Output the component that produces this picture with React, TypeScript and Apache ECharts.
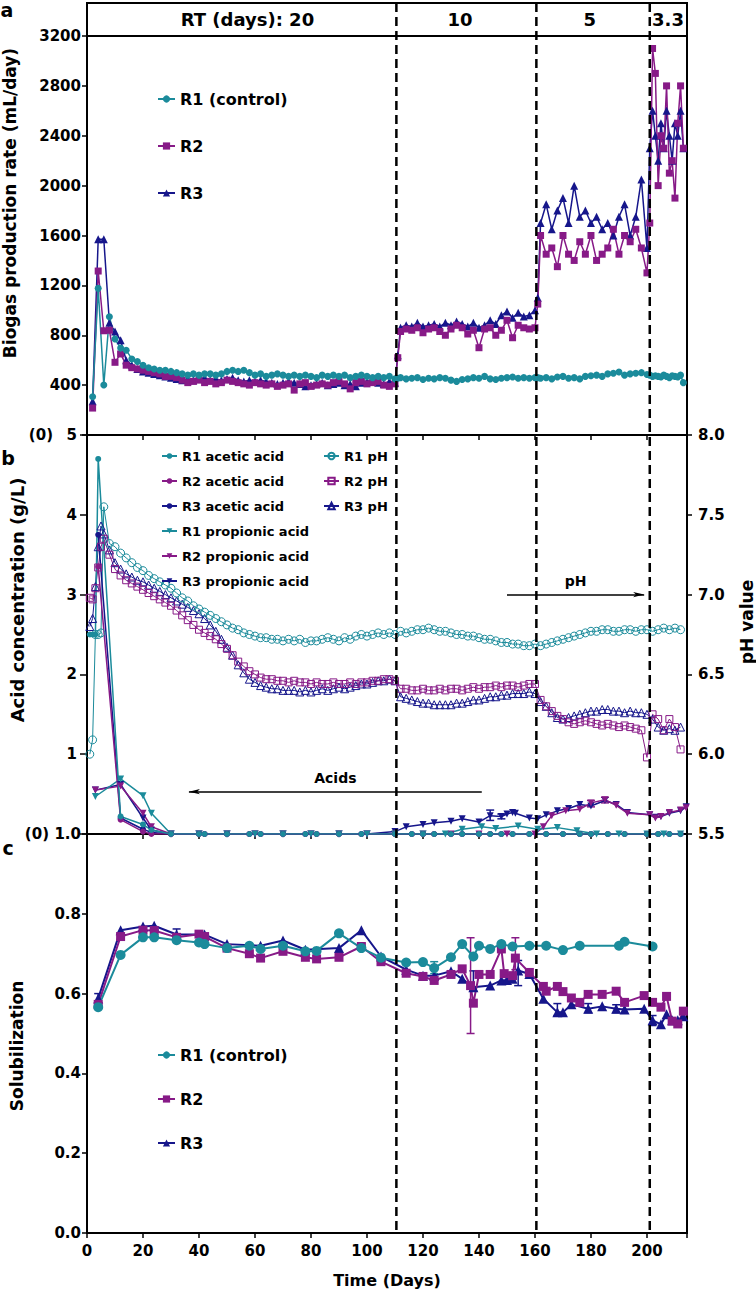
import React, { useEffect, useRef } from "react";
import * as echarts from "echarts";

const FONT = "'DejaVu Sans', 'Liberation Sans', sans-serif";
const TEAL = "#1b8b9b";
const PURPLE = "#871a87";
const NAVY = "#16168b";

// ---------- Panel a: biogas production rate (mL/day) ----------
const biogasDays = [2,4,6,8,10,12,14,16,18,20,22,24,26,28,30,32,34,36,38,40,42,44,46,48,50,52,54,56,58,60,62,64,66,68,70,72,74,76,78,80,82,84,86,88,90,92,94,96,98,100,102,104,106,108,110,111,112,114,116,118,120,122,124,126,128,130,132,134,136,138,140,142,144,146,148,150,152,154,156,158,160,161,162,164,166,168,170,172,174,176,178,180,182,184,186,188,190,192,194,196,198,200,201,202,203,204,205,206,207,208,209,210,211,212,213];
const biogasR1 = [307,1176,401,949,770,697,680,610,590,560,540,530,520,520,510,500,490,480,490,480,490,490,480,490,510,520,510,520,500,480,490,470,480,490,480,470,480,470,480,470,460,480,470,480,470,480,460,470,480,470,460,470,460,470,450,
  455,
  460,450,455,460,445,455,450,460,455,440,430,445,450,460,455,470,450,445,455,460,465,455,460,455,460,
  460,
  455,460,450,465,470,455,460,450,470,475,480,470,490,495,505,480,490,495,500,485,
  480,470,475,470,465,480,470,460,475,470,465,480,420];
const biogasR2 = [216,1315,836,840,583,650,560,540,530,520,510,500,490,470,470,460,440,420,430,440,420,430,410,420,440,430,420,410,400,420,410,400,410,390,400,410,360,410,420,390,400,410,400,420,430,410,370,420,430,410,420,430,400,390,410,
  620,
  830,850,840,860,820,850,860,830,800,850,880,860,810,840,700,850,860,800,840,920,780,880,860,850,860,
  1050,
  1600,1450,1500,1350,1600,1450,1400,1550,1450,1600,1400,1450,1500,1650,1450,1600,1550,1650,1500,1300,
  1700,3100,2900,2000,2400,2300,2800,2100,2200,1900,2500,2800,2300];
const biogasR3 = [270,1570,1570,900,830,760,600,560,530,510,500,490,480,470,460,450,440,450,440,450,460,440,450,440,450,460,440,430,440,430,440,430,420,410,420,430,420,410,390,400,410,420,400,410,420,400,410,390,420,430,440,420,410,430,420,
  640,
  860,880,870,900,870,880,890,870,900,880,910,890,870,900,860,880,920,890,960,990,940,980,950,960,1000,
  1100,
  1700,1850,1650,1800,1900,1700,2000,1750,1800,1700,1750,1650,1700,1600,1750,1850,1600,1750,2050,1500,
  2300,2600,2400,2200,2500,2300,2600,2400,2200,2500,2400,2600,2300];

// ---------- Panel b: acids (g/L) and pH ----------
const aceticDays = [1,2,3,4,12,20,23,30,40,42,50,58,62,70,78,82,90,98,110,116,120,124,130,134,140,144,148,152,158,164,170,176,180,186,192,200,204,208,212];
const aceticR1 = [2.5,2.5,2.5,4.7,0.22,0.12,0.05,0,0,0,0,0,0,0,0,0,0,0,0,0,0,0,0,0,0,0,0,0,0,0,0,0,0,0,0,0,0,0,0];
const aceticR2 = [null,null,null,3.35,0.18,0.03,0,0,0,0,0,0,0,0,0,0,0,0,0,0,0,0,0,0,0,0,0,0,0,0,0,0,0,0,0,0,0,0,0];
const aceticR3 = [null,null,null,3.75,0.2,0.06,0.02,0,0,0,0,0,0,0,0,0,0,0,0,0,0,0,0,0,0,0,0,0,0,0,0,0,0,0,0,0,0,0,0];

const propR1Days = [3,12,20,23,30,40,50,60,70,80,90,100,110,120,128,134,141,146,154,161,168,175,182,190,200,206,212];
const propR1 = [0.47,0.69,0.48,0.26,0,0,0,0,0,0,0,0,0,0,0,0.06,0.09,0.07,0.1,0.06,0.08,0.04,0,0,0,0,0];
const propR2Days = [3,12,20,23,30,40,50,60,70,80,90,100,110,120,130,140,150,160,163,166,171,176,180,185,189,193,201,203,205,208,212,214];
const propR2 = [0.55,0.6,0.26,0.09,0,0,0,0,0,0,0,0,0,0,0,0,0,0,0.09,0.23,0.29,0.31,0.39,0.43,0.36,0.26,0.24,0.2,0.22,0.27,0.3,0.33];
const propR3Days = [3,12,20,23,30,40,50,60,70,80,90,100,110,114,120,124,130,134,140,144,148,150,152,153,158,161,164,168,172,176,180,185,189,193,201,203,205,208,212,214];
const propR3 = [0.55,0.62,0.2,0.05,0,0,0,0,0,0,0,0,0.03,0.09,0.12,0.14,0.16,0.19,0.15,0.23,0.22,0.25,0.27,0.26,0.2,0.19,0.24,0.29,0.32,0.37,0.35,0.42,0.37,0.27,0.24,0.21,0.22,0.26,0.29,0.34];
// error bars on propionic acid: day, low, high
const propR2ErrDays = [180, 185];
const propR2ErrLow = [0.34, 0.39];
const propR2ErrHigh = [0.42, 0.46];
const propR3ErrDays = [144, 148];
const propR3ErrLow = [0.17, 0.19];
const propR3ErrHigh = [0.3, 0.25];

const pHDays = [1,2,3,4,5,6,8,10,12,14,16,18,20,22,24,26,28,30,32,34,36,38,40,42,44,46,48,50,52,54,56,58,60,62,64,66,68,70,72,74,76,78,80,82,84,86,88,90,92,94,96,98,100,102,104,106,108,110,112,114,116,118,120,122,124,126,128,130,132,134,136,138,140,142,144,146,148,150,152,154,156,158,160,162,164,166,168,170,172,174,176,178,180,182,184,186,188,190,192,194,196,198,200,202,204,206,208,210,212];
const pHR1 = [6.0,6.09,6.75,6.75,6.76,7.55,
  7.32,7.30,7.26,7.23,7.20,7.17,7.15,7.12,7.10,7.08,
  7.06,7.04,7.01,6.98,6.96,6.93,6.91,6.89,6.87,6.85,
  6.83,6.81,6.79,6.78,6.76,6.75,6.74,6.73,6.73,6.72,
  6.72,6.71,6.72,6.71,6.72,6.70,6.71,6.71,6.72,6.73,
  6.72,6.71,6.73,6.72,6.74,6.75,6.74,6.75,6.76,6.75,
  6.76,6.75,6.77,6.76,6.77,6.78,6.78,6.79,6.78,6.77,
  6.77,6.76,6.75,6.75,6.74,6.74,6.73,6.72,6.72,6.71,
  6.70,6.70,6.69,6.69,6.68,6.68,6.69,6.68,6.69,6.70,
  6.71,6.72,6.73,6.74,6.75,6.76,6.77,6.77,6.78,6.78,
  6.77,6.77,6.78,6.78,6.77,6.78,6.78,6.77,6.78,6.79,
  6.78,6.79,6.78];
const pHR2 = [6.98,6.97,7.04,7.17,7.30,7.35,
  7.25,7.16,7.12,7.09,7.07,7.05,7.03,7.01,6.99,6.97,
  6.95,6.93,6.90,6.87,6.84,6.81,6.78,6.76,6.74,6.72,
  6.69,6.66,6.62,6.58,6.55,6.52,6.50,6.48,6.47,6.47,
  6.46,6.46,6.45,6.46,6.45,6.45,6.44,6.45,6.44,6.44,
  6.45,6.44,6.44,6.45,6.44,6.45,6.45,6.46,6.46,6.47,
  6.47,6.46,6.41,6.41,6.40,6.40,6.41,6.40,6.40,6.41,
  6.40,6.41,6.41,6.40,6.41,6.42,6.41,6.42,6.42,6.43,
  6.42,6.43,6.43,6.42,6.43,6.44,6.44,6.34,6.30,6.27,
  6.24,6.22,6.20,6.19,6.20,6.21,6.20,6.19,6.18,6.19,
  6.18,6.17,6.18,6.17,6.16,6.15,5.98,6.25,6.22,6.15,
  6.22,6.17,6.03];
const pHR3 = [6.80,6.85,7.05,7.30,7.43,7.38,
  7.28,7.20,7.16,7.13,7.11,7.09,7.08,7.06,7.04,7.02,
  7.00,6.98,6.96,6.94,6.92,6.90,6.88,6.85,6.81,6.77,
  6.72,6.67,6.62,6.56,6.51,6.47,6.45,6.43,6.42,6.41,
  6.41,6.40,6.40,6.40,6.39,6.40,6.39,6.40,6.41,6.40,
  6.41,6.42,6.41,6.42,6.43,6.44,6.44,6.45,6.46,6.46,
  6.47,6.46,6.36,6.35,6.34,6.33,6.32,6.32,6.31,6.31,
  6.31,6.31,6.32,6.32,6.33,6.34,6.34,6.35,6.36,6.36,
  6.37,6.37,6.38,6.38,6.38,6.39,6.38,6.33,6.30,6.26,
  6.23,6.22,6.23,6.24,6.25,6.26,6.27,6.27,6.28,6.28,
  6.27,6.27,6.26,6.27,6.26,6.26,6.25,6.22,6.17,6.15,
  6.16,6.15,6.17];

// ---------- Panel c: solubilization ----------
const solR1Days = [4,12,20,24,32,40,42,50,58,62,70,78,82,90,98,105,114,120,124,130,134,138,140,144,148,152,158,164,170,176,190,192,202];
const solR1 = [0.566,0.697,0.741,0.741,0.734,0.728,0.724,0.714,0.72,0.712,0.72,0.706,0.707,0.751,0.714,0.69,0.678,0.679,0.664,0.691,0.724,0.693,0.72,0.712,0.724,0.718,0.72,0.72,0.709,0.72,0.72,0.73,0.718];
const solR2Days = [4,12,20,24,32,40,42,50,58,62,70,78,82,90,98,105,114,120,124,130,134,137,138,140,144,148,149,152,153,158,163,164,168,170,173,176,179,184,189,192,199,202,205,207,209,211,213];
const solR2 = [0.573,0.743,0.759,0.758,0.741,0.749,0.743,0.714,0.70,0.689,0.706,0.691,0.687,0.691,0.718,0.68,0.651,0.643,0.633,0.648,0.662,0.62,0.576,0.648,0.648,0.712,0.65,0.645,0.689,0.653,0.618,0.606,0.618,0.605,0.589,0.578,0.598,0.598,0.606,0.578,0.595,0.578,0.566,0.593,0.531,0.524,0.556];
const solR3Days = [4,12,20,24,32,42,50,62,70,78,90,98,105,114,120,124,130,134,138,144,148,150,152,154,158,163,168,170,173,179,184,189,192,199,202,205,207,209,211,213];
const solR3 = [0.588,0.759,0.768,0.77,0.748,0.748,0.724,0.72,0.733,0.71,0.714,0.759,0.693,0.66,0.645,0.645,0.656,0.637,0.616,0.62,0.633,0.634,0.637,0.658,0.649,0.587,0.553,0.553,0.573,0.562,0.568,0.562,0.56,0.562,0.533,0.523,0.548,0.533,0.533,0.543];
// error bars on solubilization: day, low, high
const solR1ErrDays = [124];
const solR1ErrLow = [0.65];
const solR1ErrHigh = [0.68];
const solR2ErrDays = [137, 153];
const solR2ErrLow = [0.50, 0.66];
const solR2ErrHigh = [0.74, 0.74];
const solR3ErrDays = [4, 32, 138, 154, 168, 179, 189, 202];
const solR3ErrLow = [0.575, 0.735, 0.607, 0.62, 0.545, 0.552, 0.552, 0.52];
const solR3ErrHigh = [0.60, 0.762, 0.657, 0.683, 0.575, 0.575, 0.572, 0.545];

// ---------- annotations ----------
const rtBoundaries = [110.5, 160.5, 201];
const rtLabels = ["RT (days): 20", "10", "5", "3.3"];
const rtLabelDays = [57.3, 133.2, 179.6, 207.5];

// layout
const GL = 87, GW = 600, GH = 399;
const TOPS = [36, 435, 834];
const X_MAX = 214.3;

const zip = (xs: number[], ys: (number | null)[]) => xs.map((x, i) => [x, ys[i]]);

const txt = { color: "#000", fontFamily: FONT, fontWeight: "bold" as const };

function mkLine(name: string, xi: number, yi: number, days: number[], vals: (number | null)[], color: string, symbol: string, size: number, lw: number, extra: any = {}) {
  return {
    type: "line",
    name,
    xAxisIndex: xi,
    yAxisIndex: yi,
    data: zip(days, vals),
    symbol,
    symbolSize: size,
    showAllSymbol: true,
    connectNulls: false,
    lineStyle: { color, width: lw },
    itemStyle: { color, borderColor: color, borderWidth: 0 },
    emphasis: { disabled: true },
    ...extra,
  };
}

function hollow(name: string, days: number[], vals: number[], color: string, symbol: string, size: number) {
  return {
    type: "line",
    name,
    xAxisIndex: 1,
    yAxisIndex: 2,
    data: zip(days, vals),
    symbol,
    symbolSize: size,
    showAllSymbol: true,
    lineStyle: { color, width: 1 },
    itemStyle: { color: "rgba(255,255,255,0)", borderColor: color, borderWidth: 1 },
    emphasis: { disabled: true },
  };
}

function errBars(name: string, xi: number, yi: number, days: number[], lo: number[], hi: number[], color: string) {
  return {
    type: "custom",
    name,
    xAxisIndex: xi,
    yAxisIndex: yi,
    silent: true,
    data: days.map((d, i) => [d, lo[i], hi[i]]),
    renderItem: (_p: any, api: any) => {
      const a = api.coord([api.value(0), api.value(1)]);
      const b = api.coord([api.value(0), api.value(2)]);
      const st = { stroke: color, lineWidth: 1.5 };
      return {
        type: "group",
        children: [
          { type: "line", shape: { x1: a[0], y1: a[1], x2: b[0], y2: b[1] }, style: st },
          { type: "line", shape: { x1: a[0] - 4, y1: a[1], x2: a[0] + 4, y2: a[1] }, style: st },
          { type: "line", shape: { x1: b[0] - 4, y1: b[1], x2: b[0] + 4, y2: b[1] }, style: st },
        ],
      };
    },
  };
}

export default function App() {
  const ref = useRef<HTMLDivElement>(null);
  useEffect(() => {
    document.body.style.margin = "0";
    const chart = echarts.init(ref.current!, null, { renderer: "svg" });

    const xAxes = [0, 1, 2].map((i) => ({
      type: "value",
      gridIndex: i,
      min: 0,
      max: X_MAX,
      interval: 20,
      axisLine: { show: true, onZero: false, lineStyle: { color: "#000", width: 2 } },
      axisTick: { show: true, length: 5, lineStyle: { color: "#000", width: 1.5 } },
      axisLabel: {
        show: i === 2, ...txt, fontSize: 15, margin: 10,
        formatter: (v: number) => (Math.abs(v % 20) < 1e-6 ? String(v) : ""),
      },
      splitLine: { show: false },
      name: i === 2 ? "Time (Days)" : "",
      nameLocation: "middle",
      nameGap: 39,
      nameTextStyle: { ...txt, fontSize: 16 },
    }));

    const yBase = {
      type: "value",
      axisLine: { show: true, onZero: false, lineStyle: { color: "#000", width: 2 } },
      axisTick: { show: true, length: 5, lineStyle: { color: "#000", width: 1.5 } },
      splitLine: { show: false },
    };

    const yAxes = [
      {
        ...yBase, gridIndex: 0, min: 0, max: 3200, interval: 400,
        axisLabel: {
          ...txt, fontSize: 15, margin: 6,
          formatter: (v: number) => (v === 0 ? "{z|(0)}" : String(v)),
          rich: { z: { ...txt, fontSize: 15, padding: [0, 28, 0, 0] } },
        },
      },
      {
        ...yBase, gridIndex: 1, min: 0, max: 5, interval: 1, position: "left",
        axisTick: { show: true, length: 7, lineStyle: { color: "#000", width: 1.5 } },
        axisLabel: {
          ...txt, fontSize: 15, margin: 10,
          formatter: (v: number) => (v === 0 ? "{z|(0)}" : String(v)),
          rich: { z: { ...txt, fontSize: 15, padding: [0, 28, 0, 0] } },
        },
      },
      {
        ...yBase, gridIndex: 1, min: 5.5, max: 8.0, interval: 0.5, position: "right",
        axisLabel: { ...txt, fontSize: 15, margin: 11, formatter: (v: number) => v.toFixed(1) },
      },
      {
        ...yBase, gridIndex: 2, min: 0, max: 1.0, interval: 0.2,
        axisLabel: { ...txt, fontSize: 15, margin: 6, formatter: (v: number) => v.toFixed(1) },
      },
    ];

    const grids = TOPS.map((t) => ({
      left: GL, width: GW, top: t, height: GH,
      show: true, borderColor: "#000", borderWidth: 2, backgroundColor: "transparent",
    }));

    const arrowLabel = { show: true, position: "middle", distance: 7, ...txt, fontSize: 14 };

    const series: any[] = [
      // panel a
      mkLine("R3", 0, 0, biogasDays, biogasR3, NAVY, "triangle", 8, 1.5),
      mkLine("R2", 0, 0, biogasDays, biogasR2, PURPLE, "rect", 7, 1.5),
      mkLine("R1 (control)", 0, 0, biogasDays, biogasR1, TEAL, "circle", 7, 1.5),
      // panel b pH
      hollow("R3 pH", pHDays, pHR3, NAVY, "triangle", 8),
      hollow("R2 pH", pHDays, pHR2, PURPLE, "rect", 7),
      {
        ...hollow("R1 pH", pHDays, pHR1, TEAL, "circle", 8),
        markLine: {
          silent: true,
          symbol: ["none", "arrow"],
          symbolSize: [4, 11],
          lineStyle: { color: "#000", width: 1.5, type: "solid" },
          label: { ...arrowLabel, formatter: "pH" },
          data: [[{ coord: [150, 7.0] }, { coord: [199, 7.0] }]],
        },
      },
      // panel b acids
      errBars("R3 propionic err", 1, 1, propR3ErrDays, propR3ErrLow, propR3ErrHigh, NAVY),
      errBars("R2 propionic err", 1, 1, propR2ErrDays, propR2ErrLow, propR2ErrHigh, PURPLE),
      mkLine("R3 propionic acid", 1, 1, propR3Days, propR3, NAVY, "triangle", 7, 1.5, { symbolRotate: 180 }),
      mkLine("R2 propionic acid", 1, 1, propR2Days, propR2, PURPLE, "triangle", 7, 1.5, { symbolRotate: 180 }),
      mkLine("R1 propionic acid", 1, 1, propR1Days, propR1, TEAL, "triangle", 7, 1.5, { symbolRotate: 180 }),
      mkLine("R3 acetic acid", 1, 1, aceticDays, aceticR3, NAVY, "circle", 6, 1.5),
      mkLine("R2 acetic acid", 1, 1, aceticDays, aceticR2, PURPLE, "circle", 6, 1.5),
      {
        ...mkLine("R1 acetic acid", 1, 1, aceticDays, aceticR1, TEAL, "circle", 6, 1.5),
        markLine: {
          silent: true,
          symbol: ["none", "arrow"],
          symbolSize: [4, 11],
          lineStyle: { color: "#000", width: 1.5, type: "solid" },
          label: { ...arrowLabel, formatter: "Acids" },
          data: [[{ coord: [141, 0.53] }, { coord: [36.4, 0.53] }]],
        },
      },
      // panel c
      errBars("R3 sol err", 2, 3, solR3ErrDays, solR3ErrLow, solR3ErrHigh, NAVY),
      errBars("R2 sol err", 2, 3, solR2ErrDays, solR2ErrLow, solR2ErrHigh, PURPLE),
      errBars("R1 sol err", 2, 3, solR1ErrDays, solR1ErrLow, solR1ErrHigh, TEAL),
      mkLine("R3", 2, 3, solR3Days, solR3, NAVY, "triangle", 10, 2),
      mkLine("R2", 2, 3, solR2Days, solR2, PURPLE, "rect", 9, 2),
      mkLine("R1 (control)", 2, 3, solR1Days, solR1, TEAL, "circle", 10, 2),
    ];

    const legendText = (fs: number, lh: number) => ({ ...txt, fontSize: fs, lineHeight: lh });

    const option: any = {
      animation: false,
      backgroundColor: "#fff",
      textStyle: { fontFamily: FONT },
      grid: grids,
      xAxis: xAxes,
      yAxis: yAxes,
      legend: [
        {
          data: ["R1 (control)", "R2", "R3"], orient: "vertical", left: 152, top: 84,
          itemWidth: 17, itemHeight: 9, itemGap: 27, selectedMode: false,
          textStyle: legendText(16, 20),
        },
        {
          data: ["R1 acetic acid", "R2 acetic acid", "R3 acetic acid", "R1 propionic acid", "R2 propionic acid", "R3 propionic acid"],
          orient: "vertical", left: 156, top: 443, itemWidth: 15, itemHeight: 7, itemGap: 9, selectedMode: false,
          textStyle: legendText(13, 16),
        },
        {
          data: ["R1 pH", "R2 pH", "R3 pH"],
          orient: "vertical", left: 318, top: 443, itemWidth: 15, itemHeight: 8, itemGap: 9, selectedMode: false,
          textStyle: legendText(13, 16),
        },
        {
          data: ["R1 (control)", "R2", "R3"], orient: "vertical", left: 152, top: 1040,
          itemWidth: 17, itemHeight: 9, itemGap: 24, selectedMode: false,
          textStyle: legendText(16, 20),
        },
      ],
      series,
    };

    chart.setOption(option);

    const px = (d: number) => chart.convertToPixel({ xAxisIndex: 0 }, d) as number;
    const topY = 3;
    const bottomY = TOPS[2] + GH;

    const graphic: any[] = [
      { type: "rect", z: 50, shape: { x: GL, y: topY, width: GW, height: TOPS[0] - topY }, style: { fill: "none", stroke: "#000", lineWidth: 2 } },
      ...rtBoundaries.map((d) => ({
        type: "line", z: 60,
        shape: { x1: px(d), y1: topY, x2: px(d), y2: bottomY },
        style: { stroke: "#000", lineWidth: 2.5, lineDash: [9, 5] },
      })),
      ...rtLabels.map((t, i) => ({
        type: "text", z: 60, x: px(rtLabelDays[i]), y: (topY + TOPS[0]) / 2,
        style: { text: t, ...txt, fontSize: 18, fill: "#000", textAlign: "center", textVerticalAlign: "middle" },
      })),
      { type: "text", z: 60, x: 7, y: 10, style: { text: "a", ...txt, fontSize: 19, fill: "#000", textAlign: "center", textVerticalAlign: "middle" } },
      { type: "text", z: 60, x: 8, y: 458, style: { text: "b", ...txt, fontSize: 19, fill: "#000", textAlign: "center", textVerticalAlign: "middle" } },
      { type: "text", z: 60, x: 8, y: 848, style: { text: "c", ...txt, fontSize: 19, fill: "#000", textAlign: "center", textVerticalAlign: "middle" } },
      { type: "text", z: 60, x: 10, y: 203, rotation: Math.PI / 2, style: { text: "Biogas production rate (mL/day)", ...txt, fontSize: 17, fill: "#000", textAlign: "center", textVerticalAlign: "middle" } },
      { type: "text", z: 60, x: 17, y: 600, rotation: Math.PI / 2, style: { text: "Acid concentration (g/L)", ...txt, fontSize: 18, fill: "#000", textAlign: "center", textVerticalAlign: "middle" } },
      { type: "text", z: 60, x: 17, y: 1046, rotation: Math.PI / 2, style: { text: "Solubilization", ...txt, fontSize: 17, fill: "#000", textAlign: "center", textVerticalAlign: "middle" } },
      { type: "text", z: 60, x: 747, y: 622, rotation: Math.PI / 2, style: { text: "pH value", ...txt, fontSize: 17, fill: "#000", textAlign: "center", textVerticalAlign: "middle" } },
    ];
    chart.setOption({ graphic });

    return () => chart.dispose();
  }, []);

  return <div ref={ref} style={{ width: 756, height: 1294 }} />;
}
